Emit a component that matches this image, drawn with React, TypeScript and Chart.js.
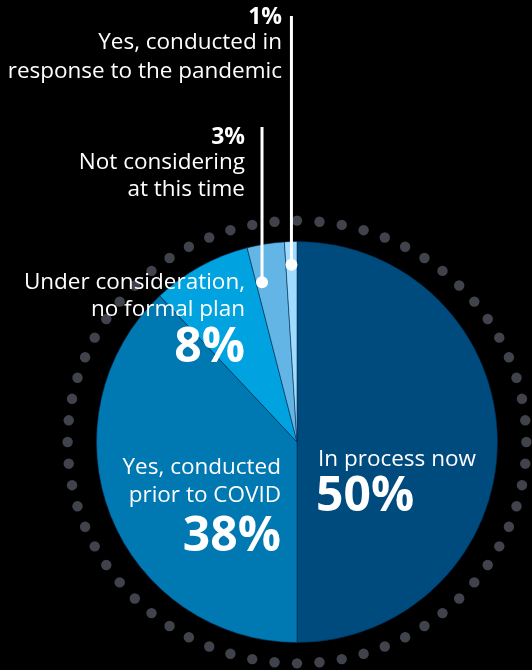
import React, { useEffect, useRef } from "react";
import { Chart, registerables } from "chart.js";

Chart.register(...registerables);

const categories = [
  "In process now",
  "Yes, conducted prior to COVID",
  "Under consideration, no formal plan",
  "Not considering at this time",
  "Yes, conducted in response to the pandemic",
];
const values = [50, 38, 8, 3, 1];
const percentLabels = ["50%", "38%", "8%", "3%", "1%"];
const labelLines = [
  ["In process now"],
  ["Yes, conducted", "prior to COVID"],
  ["Under consideration,", "no formal plan"],
  ["Not considering", "at this time"],
  ["Yes, conducted in", "response to the pandemic"],
];
const sliceColors = ["#004B7E", "#0078B2", "#00A3E0", "#62B5E5", "#A0DCFF"];

const FONT = '"Open Sans", "Noto Sans", sans-serif';

// label layout (styling)
const layouts = [
  { x: 318, align: "left", textY: [460], pctY: 497, big: true },
  { x: 281, align: "right", textY: [468, 496], pctY: 537, big: true },
  { x: 245, align: "right", textY: [283, 310], pctY: 348, big: true },
  { x: 245, align: "right", textY: [163, 190], pctY: 137, big: false },
  { x: 282, align: "right", textY: [43, 72], pctY: 17, big: false },
];
// leader lines: index, fraction along slice angle, fraction of radius, top y
const leaders = [
  { idx: 3, af: 0.19, rf: 0.816, top: 127 },
  { idx: 4, af: 0.5, rf: 0.885, top: 16 },
];

const ringPlugin = {
  id: "ring",
  beforeDatasetsDraw(chart: any) {
    const arc = chart.getDatasetMeta(0).data[0];
    if (!arc) return;
    const { x, y, outerRadius } = arc as any;
    const rx = outerRadius * 1.144;
    const ry = outerRadius * 1.104;
    const ctx = chart.ctx;
    ctx.save();
    ctx.fillStyle = "#41434c";
    const n = 64;
    for (let i = 0; i < n; i++) {
      const t = (i / n) * Math.PI * 2;
      ctx.beginPath();
      ctx.arc(x + rx * Math.sin(t), y - ry * Math.cos(t), 5.2, 0, Math.PI * 2);
      ctx.fill();
    }
    ctx.restore();
  },
};

const labelPlugin = {
  id: "labels",
  afterDatasetsDraw(chart: any) {
    const ctx = chart.ctx;
    const meta = chart.getDatasetMeta(0);
    ctx.save();
    leaders.forEach((l) => {
      const el: any = meta.data[l.idx];
      const a = el.startAngle + l.af * (el.endAngle - el.startAngle);
      const r = el.outerRadius * l.rf;
      const px = el.x + r * Math.cos(a);
      const py = el.y + r * Math.sin(a);
      ctx.strokeStyle = "#ffffff";
      ctx.lineWidth = 3;
      ctx.beginPath();
      ctx.moveTo(px, py);
      ctx.lineTo(px, l.top);
      ctx.stroke();
      ctx.fillStyle = "#ffffff";
      ctx.beginPath();
      ctx.arc(px, py, 6, 0, Math.PI * 2);
      ctx.fill();
    });
    ctx.fillStyle = "#ffffff";
    ctx.textBaseline = "middle";
    layouts.forEach((lay, i) => {
      ctx.textAlign = lay.align;
      ctx.font = `400 22.5px ${FONT}`;
      labelLines[i].forEach((line, j) => {
        ctx.fillText(line, lay.x, lay.textY[j]);
      });
      ctx.font = lay.big ? `700 48px ${FONT}` : `700 23px ${FONT}`;
      ctx.fillText(percentLabels[i], lay.x + (lay.align === "left" ? -2 : 0), lay.pctY);
    });
    ctx.restore();
  },
};

export default function App() {
  const ref = useRef<HTMLCanvasElement | null>(null);
  useEffect(() => {
    document.body.style.margin = "0";
    document.body.style.background = "#000";
    const chart = new Chart(ref.current as HTMLCanvasElement, {
      type: "pie",
      data: {
        labels: categories,
        datasets: [
          {
            data: values,
            backgroundColor: sliceColors,
            borderColor: "rgba(0,40,80,0.55)",
            borderWidth: 1,
          },
        ],
      },
      options: {
        animation: false,
        responsive: false,
        maintainAspectRatio: false,
        layout: { padding: { left: 96, right: 34, top: 241, bottom: 27 } },
        plugins: {
          legend: { display: false },
          tooltip: { enabled: false },
        },
      },
      plugins: [ringPlugin, labelPlugin],
    });
    return () => chart.destroy();
  }, []);
  return (
    <div style={{ width: 532, height: 670, background: "#000", position: "relative" }}>
      <canvas ref={ref} width={532} height={670} style={{ display: "block" }} />
    </div>
  );
}
